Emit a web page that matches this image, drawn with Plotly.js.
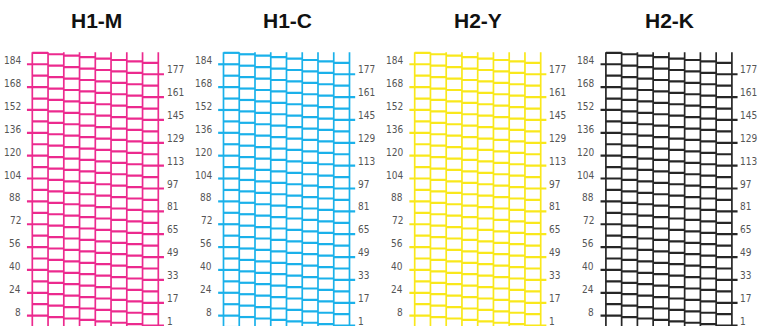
<!DOCTYPE html>
<html>
<head>
<meta charset="utf-8">
<script src="https://cdn.plot.ly/plotly-3.0.1.min.js"></script>
<style>html,body{margin:0;padding:0;background:#fff;}#chart{width:760px;height:326px;}</style>
</head>
<body>
<div id="chart"></div>
<script>
// ---- data ----
const panelNames = ["H1-M", "H1-C", "H2-Y", "H2-K"];
const panelColors = ["#ec2a8e", "#1ab1ea", "#f9e81b", "#262626"];
const leftTickNozzles = [8, 24, 40, 56, 72, 88, 104, 120, 136, 152, 168, 184];
const rightTickNozzles = [1, 17, 33, 49, 65, 81, 97, 113, 129, 145, 161, 177];
const columnCount = 8;
const topNozzle = 192;

// ---- geometry (pixels) ----
const W = 760, H = 326;
const firstLeft = 32.3, panelStep = 191.2, colW = 15.75;
const xr = [-2, 9.7];

const traces = [];
const annotations = [];
const layout = {
  width: W, height: H,
  margin: {l: 0, r: 0, t: 0, b: 0, pad: 0},
  paper_bgcolor: "#ffffff", plot_bgcolor: "#ffffff",
  showlegend: false,
  yaxis: {range: [0.74, 229.0], visible: false, fixedrange: true}
};

panelNames.forEach((name, p) => {
  const ax = p === 0 ? "x" : "x" + (p + 1);
  const axKey = p === 0 ? "xaxis" : "xaxis" + (p + 1);
  const left = firstLeft + panelStep * p + xr[0] * colW;
  const right = firstLeft + panelStep * p + xr[1] * colW;
  layout[axKey] = {range: xr, domain: [left / W, right / W], visible: false, fixedrange: true, anchor: "y"};

  const color = panelColors[p];
  // horizontal nozzle segments
  const hx = [], hy = [];
  for (let j = 0; j < columnCount; j++) {
    for (let n = topNozzle - j; n >= 0; n -= 8) {
      let x0 = j, x1 = j + 1;
      if (j === 0 && leftTickNozzles.includes(n)) x0 = -0.34;
      if (j === columnCount - 1 && rightTickNozzles.includes(n)) x1 = 8.36;
      hx.push(x0, x1, null);
      hy.push(n, n, null);
    }
  }
  traces.push({type: "scatter", mode: "lines", x: hx, y: hy, xaxis: ax, yaxis: "y",
    line: {color: color, width: 2.2}, hoverinfo: "skip"});
  // vertical lines
  const vx = [], vy = [];
  for (let c = 0; c <= columnCount; c++) {
    vx.push(c, c, null);
    vy.push(topNozzle + 0.5, -3, null);
  }
  traces.push({type: "scatter", mode: "lines", x: vx, y: vy, xaxis: ax, yaxis: "y",
    line: {color: color, width: 1.7}, hoverinfo: "skip"});

  const labelFont = {family: "Liberation Sans Narrow, Arial Narrow, DejaVu Sans Condensed, sans-serif", size: 10, color: "#555"};
  leftTickNozzles.forEach(n => {
    annotations.push({xref: ax, yref: "y", x: -0.6, y: n, text: String(n), showarrow: false,
      xanchor: "right", yanchor: "bottom", yshift: -4, font: labelFont});
  });
  rightTickNozzles.forEach(n => {
    annotations.push({xref: ax, yref: "y", x: 8.4, y: n, text: String(n), showarrow: false,
      xanchor: "left", yanchor: "bottom", yshift: -3, font: labelFont});
  });
  annotations.push({xref: ax, yref: "paper", x: 4.05, y: 1 - 20.5 / H, text: "<b>" + name + "</b>",
    showarrow: false, xanchor: "center", yanchor: "middle",
    font: {family: "Liberation Sans, Arial, sans-serif", size: 21, color: "#111"}});
});

layout.annotations = annotations;
Plotly.newPlot("chart", traces, layout, {displayModeBar: false, staticPlot: true});
</script>
</body>
</html>
